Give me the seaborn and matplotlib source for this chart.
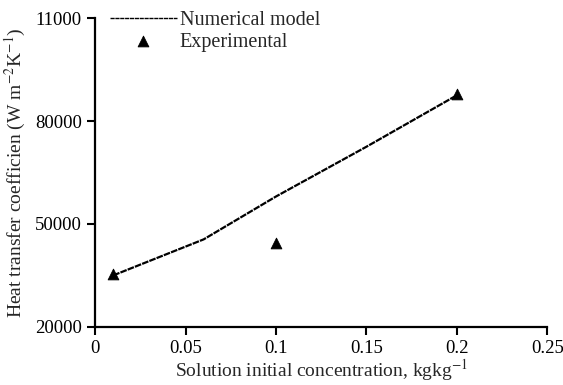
import numpy as np
import pandas as pd
import seaborn as sns
import matplotlib.pyplot as plt

# data
model_conc = [0.01, 0.06, 0.10, 0.15, 0.20]
model_htc = [35000, 45500, 58000, 72500, 87500]
exp_conc = [0.01, 0.10, 0.20]
exp_htc = [35300, 44500, 88000]

x_ticks = [0, 0.05, 0.1, 0.15, 0.2, 0.25]
x_labels = ['0', '0.05', '0.1', '0.15', '0.2', '0.25']
y_ticks = [20000, 50000, 80000, 110000]
y_labels = ['20000', '50000', '80000', '11000']

sns.set_style('ticks')
plt.rcParams['font.family'] = ['Liberation Serif', 'DejaVu Serif']
plt.rcParams['mathtext.fontset'] = 'stix'

df_model = pd.DataFrame({'conc': model_conc, 'htc': model_htc})
df_exp = pd.DataFrame({'conc': exp_conc, 'htc': exp_htc})

fig = plt.figure(figsize=(5.63, 3.85), dpi=100)
ax = fig.add_axes([0.169, 0.151, 0.803, 0.802])

sns.lineplot(data=df_model, x='conc', y='htc', ax=ax, color='black',
             linewidth=1.6, linestyle=(0, (3, 0.5)), label='Numerical model')
sns.scatterplot(data=df_exp, x='conc', y='htc', ax=ax, color='black',
                marker='^', s=60, edgecolor='black', label='Experimental', zorder=3)

ax.set_xlim(0, 0.25)
ax.set_ylim(20000, 110000)
ax.set_xticks(x_ticks)
ax.set_xticklabels(x_labels)
ax.set_yticks(y_ticks)
ax.set_yticklabels(y_labels)
ax.tick_params(direction='out', length=6, width=1.5, labelsize=13.5, colors='black')
for side in ['left', 'bottom']:
    ax.spines[side].set_linewidth(1.6)
    ax.spines[side].set_color('black')
sns.despine(ax=ax)

ax.set_xlabel('Solution initial concentration, kgkg$^{-1}$', fontsize=14, labelpad=0)
ax.set_ylabel('Heat transfer coefficien (W m$^{-2}$K$^{-1}$)', fontsize=14, labelpad=5)

leg = ax.legend(loc='upper left', bbox_to_anchor=(0.033, 1.022), frameon=False,
                fontsize=14.5, handlelength=3.3, handletextpad=0.15, labelspacing=0.1,
                borderaxespad=0, borderpad=0)
for line in leg.get_lines():
    line.set_linewidth(1.0)

fig.savefig('out.png', dpi=100)
